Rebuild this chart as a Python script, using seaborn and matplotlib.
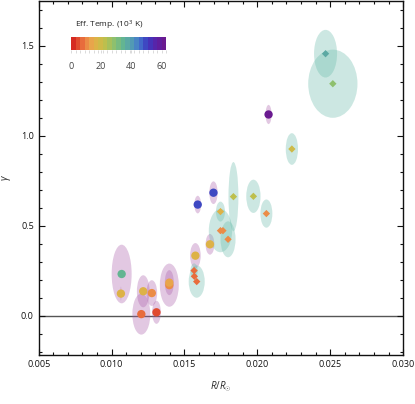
import matplotlib
matplotlib.use("Agg")
import matplotlib.pyplot as plt
import numpy as np
import pandas as pd
import seaborn as sns
from matplotlib.colors import LinearSegmentedColormap, Normalize
from matplotlib.patches import Ellipse
from matplotlib.ticker import MultipleLocator

# radius (R/Rsun), gamma, effective temperature (10^3 K), marker kind
radius = [0.01069, 0.01064, 0.01217, 0.01276, 0.01204, 0.01308, 0.01396, 0.01396,
          0.01575, 0.01566, 0.01568, 0.01584, 0.01591, 0.01699, 0.01675, 0.01747,
          0.01747, 0.01764, 0.01799, 0.01836, 0.01973, 0.02062, 0.02077, 0.02237,
          0.02468, 0.02518]
gamma = [0.231, 0.122, 0.135, 0.125, 0.008, 0.018, 0.169, 0.183,
         0.333, 0.250, 0.218, 0.189, 0.617, 0.683, 0.396, 0.578,
         0.472, 0.472, 0.424, 0.661, 0.663, 0.567, 1.118, 0.926,
         1.456, 1.289]
teff = [33, 15, 16, 9, 6, 3, 9, 14,
        15, 7, 7, 7, 49, 49, 16, 17,
        10, 10, 11, 22, 22, 11, 62, 20,
        37, 27]
kind = ["circle"] * 9 + ["diamond"] * 3 + ["circle"] * 3 + ["diamond"] * 7 + ["circle"] + ["diamond"] * 3

# uncertainty ellipse full widths / heights (0 = none)
ell_w = [0.00137, 0.00007, 0.00087, 0.00073, 0.00123, 0.00060, 0.00130, 0.00062,
         0.00073, 0.00050, 0.0, 0.00110, 0.00046, 0.00057, 0.00060, 0.00062,
         0.00160, 0.0, 0.00103, 0.00068, 0.00098, 0.00082, 0.00041, 0.00084,
         0.00158, 0.00338]
ell_h = [0.326, 0.078, 0.178, 0.143, 0.228, 0.128, 0.240, 0.139,
         0.140, 0.080, 0.0, 0.180, 0.098, 0.126, 0.115, 0.111,
         0.240, 0.0, 0.200, 0.385, 0.185, 0.157, 0.107, 0.176,
         0.265, 0.379]

cb_ticks = [0, 20, 40, 60]
TMAX = 63

df = pd.DataFrame({"radius": radius, "gamma": gamma, "teff": teff, "kind": kind,
                   "w": ell_w, "h": ell_h})

temp_cmap = LinearSegmentedColormap.from_list(
    "efftemp",
    ["#d62a22", "#e8663a", "#eca04c", "#d8b845", "#b8c04e", "#8cc070",
     "#64b690", "#55a0b0", "#4478cc", "#3c3cc0", "#5a22a8", "#6a1a90"],
    N=21)
norm = Normalize(0, TMAX)
ELL_COLORS = {"circle": "#ac62ac", "diamond": "#6dbdac"}

sns.set_theme(style="ticks")
plt.rcParams["font.family"] = ["Open Sans", "DejaVu Sans"]
plt.rcParams["mathtext.fontset"] = "custom"
plt.rcParams["mathtext.it"] = "Open Sans:italic"
plt.rcParams["mathtext.rm"] = "Open Sans"

fig = plt.figure(figsize=(4.15, 4.04), dpi=100)
ax = fig.add_axes([0.0933, 0.121, 0.878, 0.877])

for _, r in df.iterrows():
    if r["w"] > 0:
        ax.add_patch(Ellipse((r["radius"], r["gamma"]), r["w"], r["h"],
                             facecolor=ELL_COLORS[r["kind"]], alpha=0.35,
                             edgecolor="none", zorder=1))

ax.axhline(0, color="#555555", lw=1, zorder=0)

circ = df[df["kind"] == "circle"]
diam = df[df["kind"] == "diamond"]
sns.scatterplot(data=circ, x="radius", y="gamma", hue="teff", palette=temp_cmap,
                hue_norm=norm, marker="o", s=36, linewidth=0, legend=False, ax=ax, zorder=3)
sns.scatterplot(data=diam, x="radius", y="gamma", hue="teff", palette=temp_cmap,
                hue_norm=norm, marker="D", s=14, linewidth=0, legend=False, ax=ax, zorder=3)

ax.set_xlim(0.005, 0.030)
ax.set_ylim(-0.22, 1.75)
ax.xaxis.set_major_locator(MultipleLocator(0.005))
ax.xaxis.set_minor_locator(MultipleLocator(0.001))
ax.yaxis.set_major_locator(MultipleLocator(0.5))
ax.yaxis.set_minor_locator(MultipleLocator(0.1))
ax.xaxis.set_major_formatter(matplotlib.ticker.FormatStrFormatter("%.3f"))
ax.yaxis.set_major_formatter(matplotlib.ticker.FormatStrFormatter("%.1f"))
ax.tick_params(which="both", direction="in", top=True, right=True,
               labelsize=6.5, colors="#111111", width=0.8)
ax.tick_params(which="major", length=4)
ax.tick_params(which="minor", length=2)
for sp in ax.spines.values():
    sp.set_linewidth(1)
    sp.set_color("#111111")
ax.set_xlabel(r"$R/R_{\odot}$", fontsize=7, labelpad=8)
ax.set_ylabel(r"$\gamma$", fontsize=7, labelpad=6)

cax = ax.inset_axes([0.0887, 0.860, 0.261, 0.037])
sm = matplotlib.cm.ScalarMappable(norm=norm, cmap=temp_cmap)
cb = fig.colorbar(sm, cax=cax, orientation="horizontal")
cb.outline.set_visible(False)
cb.set_ticks(cb_ticks)
cb.ax.xaxis.set_minor_locator(MultipleLocator(3))
cb.ax.tick_params(which="both", direction="out", labelsize=6.5, colors="#444444",
                  length=2, width=0.5, pad=6)
cb.ax.tick_params(which="both", color="#cccccc")
cb.ax.set_title(r"Eff. Temp. (10$^3$ K)", fontsize=6, pad=7, color="#222222", x=0.4)

fig.savefig("out.png", dpi=100)
